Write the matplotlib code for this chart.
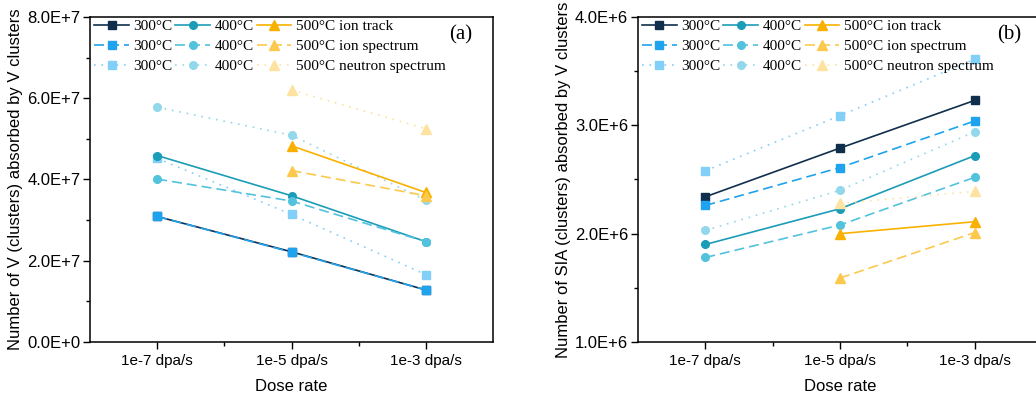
import numpy as np
import matplotlib.pyplot as plt
from matplotlib.ticker import FuncFormatter, MultipleLocator

rates = ["1e-7 dpa/s", "1e-5 dpa/s", "1e-3 dpa/s"]

# panel (a): V clusters, units 1e7
v_300_track = [3.09, 2.22, 1.28]
v_300_ion = [3.09, 2.21, 1.28]
v_300_neut = [4.52, 3.14, 1.66]
v_400_track = [4.59, 3.60, 2.47]
v_400_ion = [4.01, 3.47, 2.47]
v_400_neut = [5.78, 5.09, 3.49]
v_500_track = [np.nan, 4.83, 3.68]
v_500_ion = [np.nan, 4.22, 3.60]
v_500_neut = [np.nan, 6.20, 5.25]

# panel (b): SIA clusters, units 1e6
s_300_track = [2.34, 2.79, 3.23]
s_300_ion = [2.26, 2.61, 3.04]
s_300_neut = [2.58, 3.09, 3.61]
s_400_track = [1.90, 2.23, 2.72]
s_400_ion = [1.78, 2.08, 2.52]
s_400_neut = [2.03, 2.40, 2.94]
s_500_track = [np.nan, 2.00, 2.11]
s_500_ion = [np.nan, 1.59, 2.01]
s_500_neut = [np.nan, 2.28, 2.39]

labels = ["300\u00b0C", "300\u00b0C", "300\u00b0C",
          "400\u00b0C", "400\u00b0C", "400\u00b0C",
          "500\u00b0C ion track", "500\u00b0C ion spectrum", "500\u00b0C neutron spectrum"]
colors = ["#102f4c", "#1fa3ee", "#82cff7",
          "#1b9cb7", "#52c2dd", "#92d8ea",
          "#f8b100", "#fcc94e", "#fde2a0"]
markers = ["s"] * 3 + ["o"] * 3 + ["^"] * 3
dots = (0, (1, 3.5))
dashes = (0, (6, 3))
styles = ["-", dashes, dots] * 3

series_a = [v_300_track, v_300_ion, v_300_neut, v_400_track, v_400_ion,
            v_400_neut, v_500_track, v_500_ion, v_500_neut]
series_b = [s_300_track, s_300_ion, s_300_neut, s_400_track, s_400_ion,
            s_400_neut, s_500_track, s_500_ion, s_500_neut]

plt.rcParams["font.family"] = ["Liberation Sans", "DejaVu Sans"]
serif = ["Liberation Serif", "DejaVu Serif"]

fig = plt.figure(figsize=(10.36, 4.03), dpi=100)
ax1 = fig.add_axes([0.0869, 0.1514, 0.389, 0.8064])
ax2 = fig.add_axes([0.6158, 0.1514, 0.390, 0.8064])
x = np.arange(1, 4)


def sci(v, pos, exp):
    if v == 0:
        return "0.0E+0"
    return "%.1fE+%d" % (v / 10**exp, exp)


def draw(ax, series, scale, ylim, major, minor, ylabel, tag, exp):
    for vals, lab, c, m, ls in zip(series, labels, colors, markers, styles):
        y = np.array(vals) * scale
        ms = 6.5 if m == "^" else 5.5
        ax.plot(x, y, color=c, marker=m, ls=ls, lw=1.2, ms=ms, label=lab,
                mec=c, mfc=c)
    ax.set_xlim(0.5, 3.5)
    ax.set_ylim(*ylim)
    ax.set_xticks(x)
    ax.set_xticklabels(rates, fontsize=11)
    ax.set_xticks([1.5, 2.5], minor=True)
    ax.yaxis.set_major_locator(MultipleLocator(major))
    ax.yaxis.set_minor_locator(MultipleLocator(minor))
    ax.yaxis.set_major_formatter(FuncFormatter(lambda v, p: sci(v, p, exp)))
    ax.tick_params(axis="both", which="major", direction="out", length=5,
                   width=1, top=False, right=False)
    ax.tick_params(axis="x", which="major", labelsize=11)
    ax.tick_params(axis="y", which="major", labelsize=12, pad=2)
    ax.tick_params(axis="both", which="minor", direction="out", length=3,
                   width=1, top=False, right=False)
    for s in ax.spines.values():
        s.set_linewidth(1.1)
    ax.set_xlabel("Dose rate", fontsize=12, labelpad=8)
    ax.set_ylabel(ylabel, fontsize=12, labelpad=3)
    ax.legend(ncol=3, loc="upper left", bbox_to_anchor=(-0.012, 1.02),
              frameon=False, prop={"family": serif, "size": 11},
              handlelength=2.25, handletextpad=0.3, columnspacing=0.2,
              labelspacing=0.4, borderaxespad=0.2)
    ax.text(0.92, 0.945, tag, transform=ax.transAxes, ha="center", va="center",
            fontsize=15, family=serif)


draw(ax1, series_a, 1e7, (0, 8e7), 2e7, 1e7,
     "Number of V (clusters) absorbed by V clusters", "(a)", 7)
draw(ax2, series_b, 1e6, (1e6, 4e6), 1e6, 5e5,
     "Number of SIA (clusters) absorbed by V clusters", "(b)", 6)

fig.savefig("out.png", dpi=100)
